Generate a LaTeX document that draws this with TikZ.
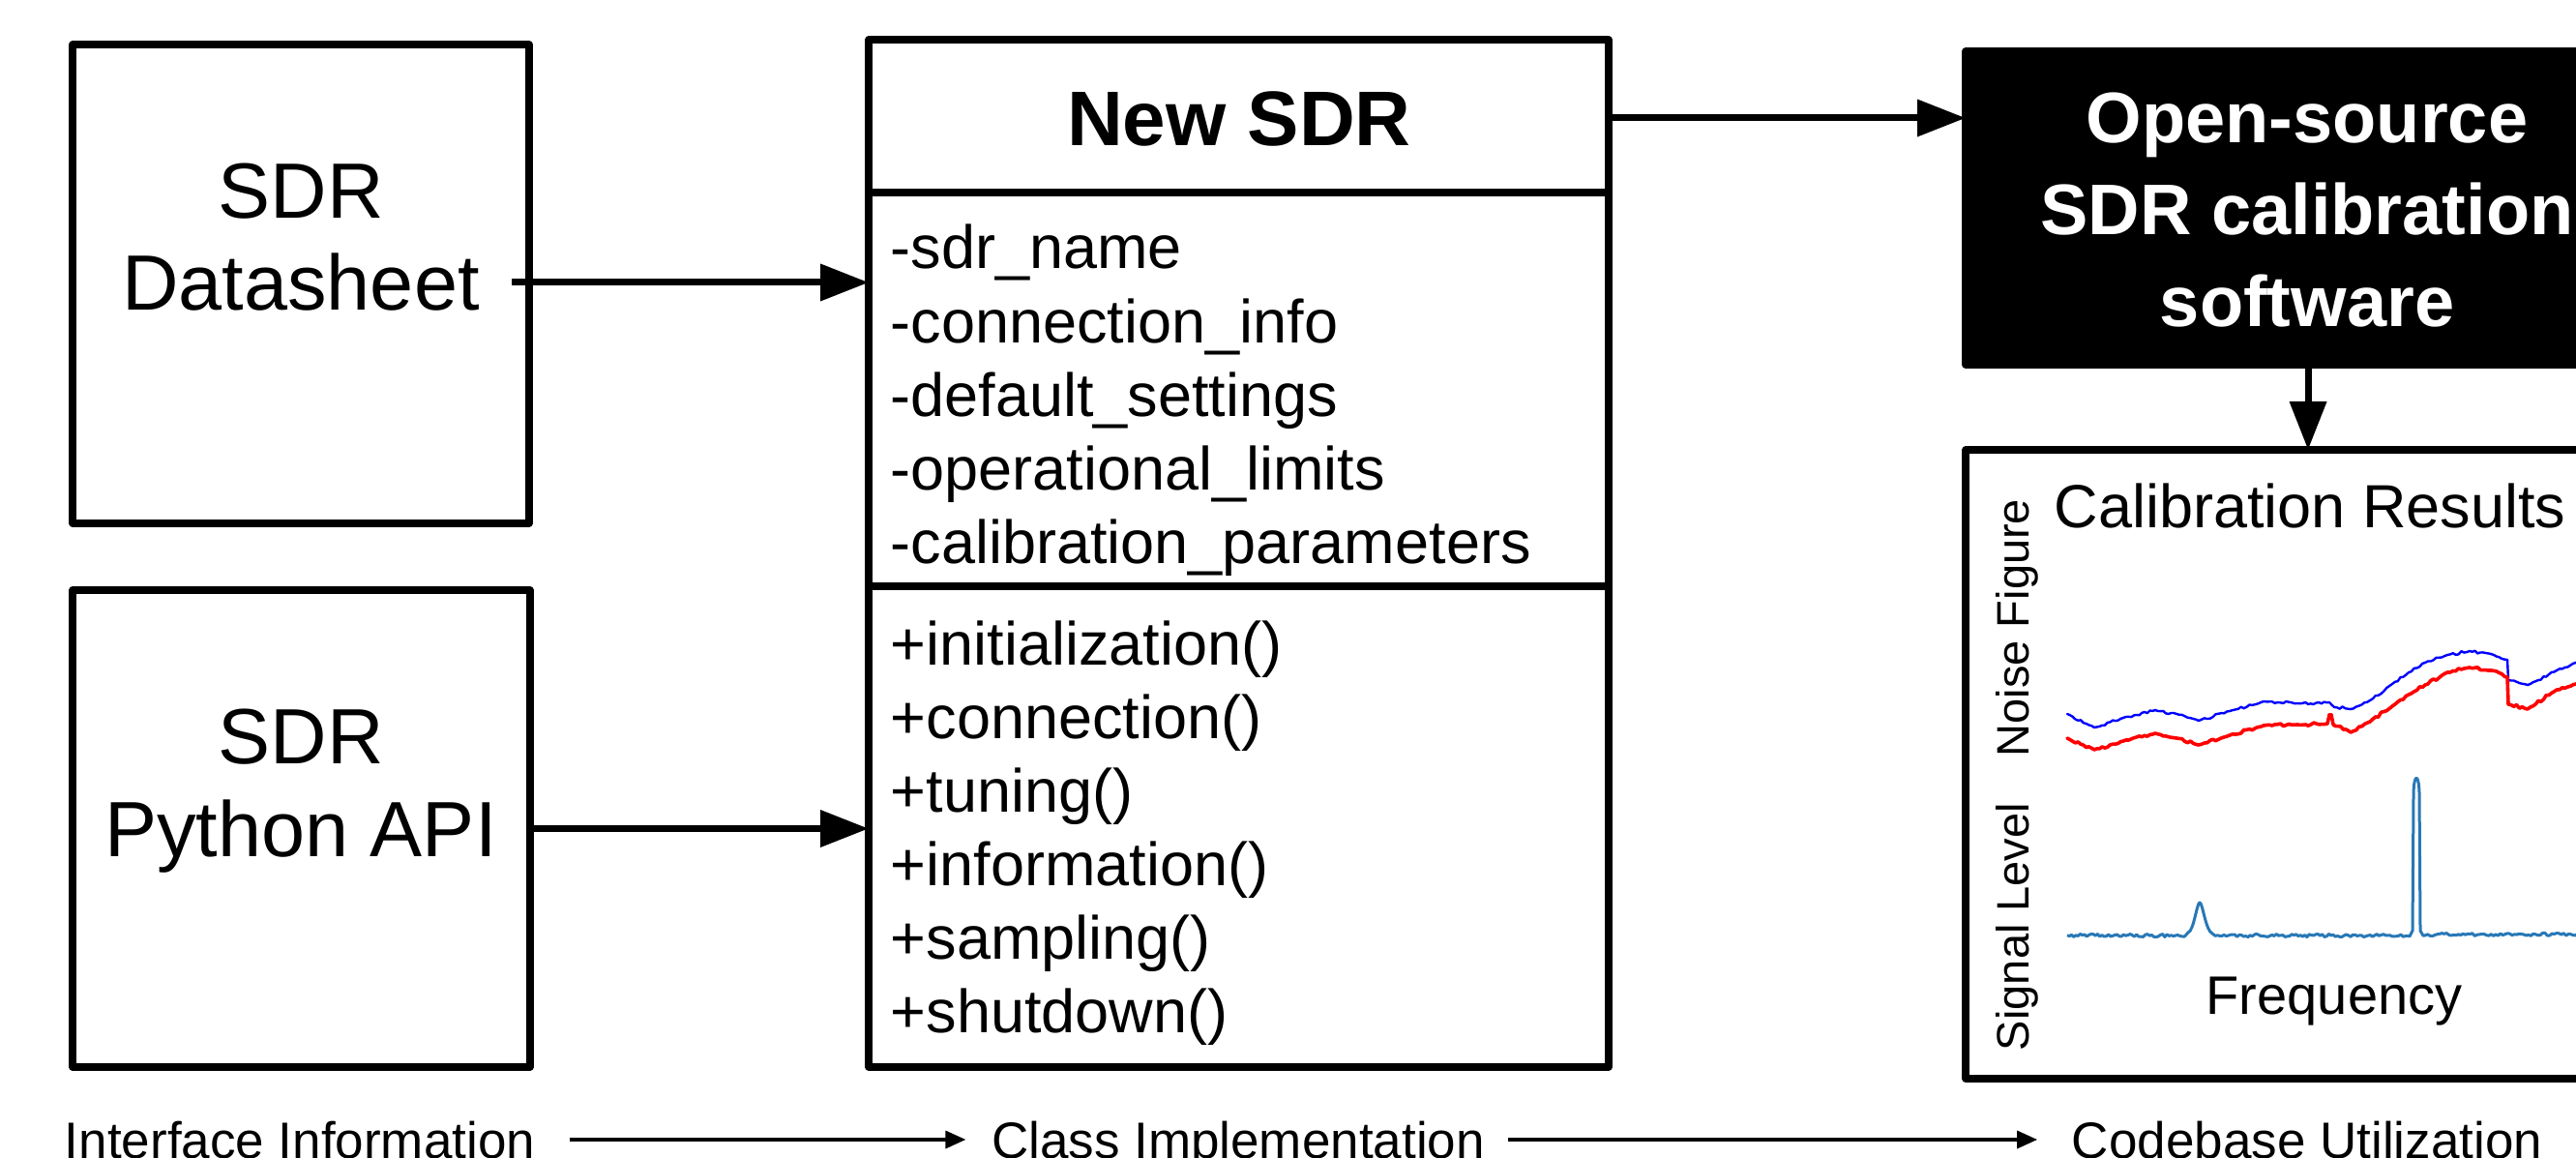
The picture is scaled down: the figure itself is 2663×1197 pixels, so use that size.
\documentclass[tikz,border=0pt]{standalone}
\usepackage{fontspec}
\setmainfont{Liberation Sans}
\usetikzlibrary{arrows.meta,calc}
\begin{document}
\begin{tikzpicture}[x=0.25pt,y=-0.25pt,
  box/.style={draw, line width=1.8pt, line join=round, outer sep=0pt, inner sep=0pt},
  bigarrow/.style={line width=1.75pt, -{Triangle[length=12.5pt,width=9.25pt]}},
  thinarrow/.style={line width=0.85pt, -{Triangle[length=5.25pt,width=4.5pt]}},
  tbig/.style={font=\fontsize{20.25pt}{24pt}\selectfont, inner sep=0pt, anchor=base},
  thead/.style={font=\bfseries\fontsize{20pt}{24pt}\selectfont, inner sep=0pt, anchor=base},
  tmember/.style={font=\fontsize{15.75pt}{19pt}\selectfont, inner sep=0pt, anchor=base west},
  tsw/.style={font=\bfseries\fontsize{18.5pt}{23pt}\selectfont, text=white, inner sep=0pt, anchor=base},
  tcal/.style={font=\fontsize{15.75pt}{19pt}\selectfont, inner sep=0pt},
  taxis/.style={font=\fontsize{11.75pt}{14pt}\selectfont, inner sep=0pt, rotate=90, anchor=base},
  tfreq/.style={font=\fontsize{14pt}{17pt}\selectfont, inner sep=0pt, anchor=base},
  tstage/.style={font=\fontsize{13.25pt}{16pt}\selectfont, inner sep=0pt, anchor=base},
  nfblue/.style={draw=blue, line width=0.6pt, line join=round, line cap=round},
  nfred/.style={draw=red, line width=0.9pt, line join=round, line cap=round},
  sig/.style={draw={rgb,255:red,40;green,120;blue,182}, line width=0.75pt, line join=round}
]
\useasboundingbox (0,0) rectangle (2663,1197);
\fill[white] (0,0) rectangle (2663,1197);
\clip (0,0) rectangle (2663,1197);
\pgfmathsetseed{7}

% --- left boxes ---
\node[box, minimum width=118pt, minimum height=123.75pt] (ds) at (311,293.5) {};
\node[tbig] (dsl1) at (311,226) {SDR};
\node[tbig] (dsl2) at (311,321) {Datasheet};

\node[box, minimum width=118.25pt, minimum height=123.25pt] (py) at (311.5,856.5) {};
\node[tbig] (pyl1) at (311,789) {SDR};
\node[tbig] (pyl2) at (311,885) {Python API};

% --- class box ---
\node[box, minimum width=191.25pt, minimum height=265.5pt] (sdr) at (1280.5,572) {};
\coordinate (d1) at (1280,199);
\coordinate (d2) at (1280,606);
\draw[line width=1.8pt] (sdr.west |- d1) -- (sdr.east |- d1);
\draw[line width=1.8pt] (sdr.west |- d2) -- (sdr.east |- d2);
\node[thead] (sdrh) at (1281,151) {New SDR};
\foreach \t [count=\i] in {-sdr\_name,-connection\_info,-default\_settings,-operational\_limits,-calibration\_parameters}
  \node[tmember] (attr\i) at (920,{278+76*(\i-1)}) {\t};
\foreach \t [count=\i] in {+initialization(),+connection(),+tuning(),+information(),+sampling(),+shutdown()}
  \node[tmember] (meth\i) at (920,{687+76*(\i-1)}) {\t};

% --- software box ---
\node[box, fill=black, minimum width=177pt, minimum height=81pt] (sw) at (2386,215) {};
\node[tsw] (swl1) at (2385,148) {Open-source};
\node[tsw] (swl2) at (2385,243) {SDR calibration};
\node[tsw] (swl3) at (2385,338) {software};

% --- results box ---
\node[box, minimum width=177pt, minimum height=162.5pt] (cal) at (2386,790) {};
\node[tcal, anchor=base west] (calt) at (2123,545) {Calibration Results};
\node[taxis] (nf) at (2097,649) {Noise Figure};
\node[taxis] (sl) at (2097,958) {Signal Level};
\node[tfreq] (fq) at (2413,1048) {Frequency};

% noise figure curves (piecewise with jitter)
\foreach \xa/\ya/\xb/\yb in {2137/738/2165/752, 2165/752/2195/742, 2195/742/2228/734, 2228/734/2250/738, 2250/738/2273/745, 2273/745/2305/735, 2305/735/2340/725, 2340/725/2375/727, 2375/727/2408/726, 2408/726/2413/731, 2413/731/2430/733, 2430/733/2450/724, 2450/724/2473/707, 2473/707/2490/695, 2490/695/2507/685, 2507/685/2530/677, 2530/677/2553/673, 2553/673/2575/676, 2575/676/2592/682, 2592/682/2593/703, 2593/703/2613/708, 2613/708/2643/693, 2643/693/2663/685, 2663/685/2672/683}
{
  \pgfmathtruncatemacro\ns{(\xb-\xa)/3+2}
  \draw[nfblue] plot[domain=\xa:\xb, samples=\ns] (\x,{\ya+(\yb-\ya)*(\x-\xa)/(\xb-\xa)+1.6*rand*sin(180*(\x-\xa)/(\xb-\xa))});
}
\foreach \xa/\ya/\xb/\yb in {2137/763/2165/775, 2165/775/2195/766, 2195/766/2228/758, 2228/758/2250/763, 2250/763/2273/770, 2273/770/2305/760, 2305/760/2340/750, 2340/750/2375/749, 2375/749/2406/748, 2406/748/2408/739, 2408/739/2410/739, 2410/739/2412/749, 2412/749/2430/757, 2430/757/2450/746, 2450/746/2473/730, 2473/730/2490/718, 2490/718/2507/708, 2507/708/2530/695, 2530/695/2553/690, 2553/690/2575/693, 2575/693/2592/700, 2592/700/2593/728, 2593/728/2613/733, 2613/733/2643/713, 2643/713/2663/707, 2663/707/2672/705}
{
  \pgfmathtruncatemacro\ns{(\xb-\xa)/3+2}
  \draw[nfred] plot[domain=\xa:\xb, samples=\ns] (\x,{\ya+(\yb-\ya)*(\x-\xa)/(\xb-\xa)+1.8*rand*sin(180*(\x-\xa)/(\xb-\xa))});
}

% signal level curve
\draw[sig] plot[domain=2137:2258, samples=55] (\x,{967+1.6*rand})
  -- (2262,964) .. controls (2268,962) and (2271,933) .. (2274,933)
  .. controls (2277,933) and (2280,962) .. (2287,965)
  -- plot[domain=2290:2491, samples=90] (\x,{967+1.6*rand})
  -- (2494,962) -- (2495,820) .. controls (2495.5,799) and (2500.5,799) .. (2501,820)
  -- (2502,962) -- plot[domain=2505:2672, samples=70] (\x,{966+1.6*rand});

% --- connectors ---
\coordinate (dsout) at (529,292);
\draw[bigarrow] (dsout) -- (dsout -| sdr.west);
\draw[bigarrow] (py.east) -- (py.east -| sdr.west);
\coordinate (h3) at (1700,122);
\draw[bigarrow] (sdr.east |- h3) -- (sw.west |- h3);
\draw[bigarrow] (sw.south) -- (cal.north);

% --- stage labels ---
\node[tstage] (st1) at (310,1197) {Interface Information};
\node[tstage] (st2) at (1280,1197) {Class Implementation};
\node[tstage] (st3) at (2385,1197) {Codebase Utilization};
\coordinate (ya) at (0,1178);
\draw[thinarrow] ($(st1.east |- ya)+(35,0)$) -- ($(st2.west |- ya)+(-26,0)$);
\draw[thinarrow] ($(st2.east |- ya)+(23,0)$) -- ($(st3.west |- ya)+(-35,0)$);
\end{tikzpicture}
\end{document}
